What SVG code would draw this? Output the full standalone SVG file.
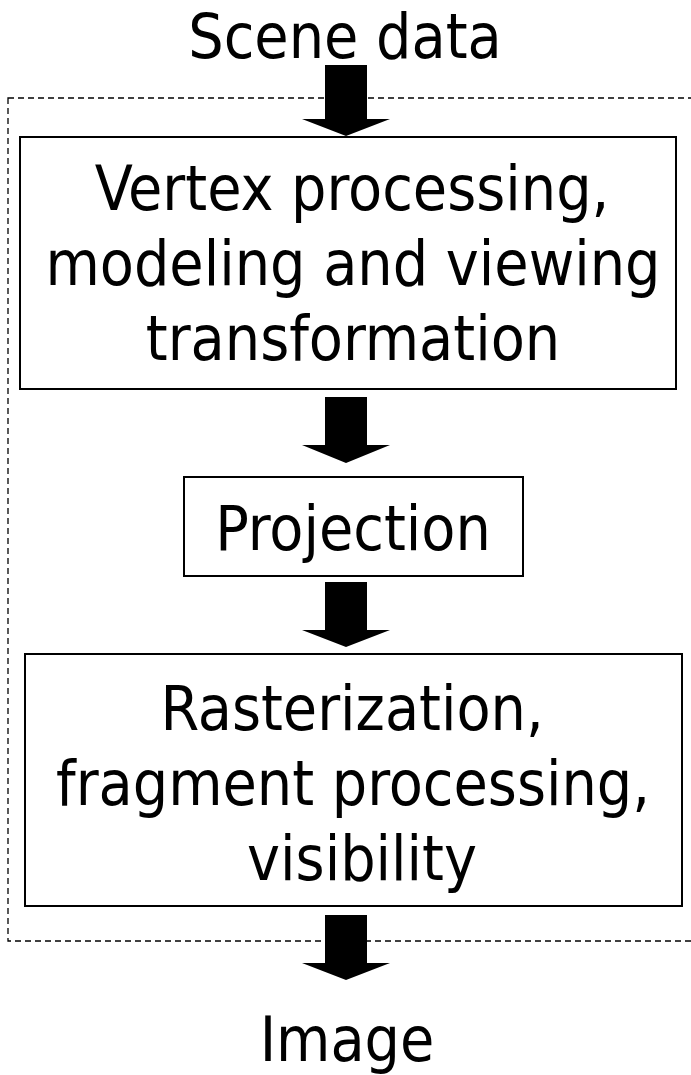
<svg xmlns="http://www.w3.org/2000/svg" width="691" height="1075" viewBox="0 0 691 1075">
<style>
.t{font-family:"DejaVu Sans Condensed","DejaVu Sans",sans-serif;font-stretch:condensed;font-size:62px;fill:#000;text-anchor:middle}
.box{fill:#fff;stroke:#000;stroke-width:2}
.arr{fill:#000}
.dash{fill:none;stroke:#000;stroke-width:1.3;stroke-dasharray:6 4}
</style>
<rect width="691" height="1075" fill="#fff"/>
<rect class="dash" x="8" y="98" width="700" height="843"/>
<g id="scene"><text class="t" x="345" y="58">Scene data</text></g>
<g id="vertex">
<rect class="box" x="20" y="137" width="656" height="252"/>
<text class="t" x="352" y="210">Vertex processing,</text>
<text class="t" x="353" y="285">modeling and viewing</text>
<text class="t" x="353" y="360">transformation</text>
</g>
<g id="projection">
<rect class="box" x="184" y="477" width="339" height="99"/>
<text class="t" x="353" y="550">Projection</text>
</g>
<g id="raster">
<rect class="box" x="25" y="654" width="657" height="252"/>
<text class="t" x="352" y="730">Rasterization,</text>
<text class="t" x="353" y="805">fragment processing,</text>
<text class="t" x="362" y="880">visibility</text>
</g>
<g id="image"><text class="t" x="347" y="1061">Image</text></g>
<g id="connectors">
<polygon class="arr" points="325,65 367,65 367,119 390,119 346,136 302,119 325,119"/>
<polygon class="arr" points="325,397 367,397 367,445 390,445 346,463 302,445 325,445"/>
<polygon class="arr" points="325,582 367,582 367,630 390,630 346,647 302,630 325,630"/>
<polygon class="arr" points="325,915 367,915 367,963 390,963 346,980 302,963 325,963"/>
</g>
</svg>
